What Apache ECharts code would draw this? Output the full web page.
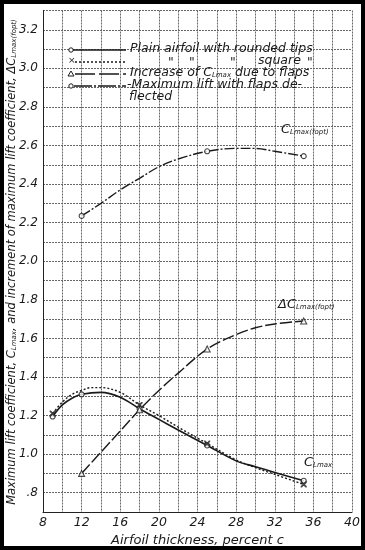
<!DOCTYPE html>
<html>
<head>
<meta charset="utf-8">
<script src="https://cdn.jsdelivr.net/npm/echarts@6/dist/echarts.min.js"></script>
<style>
html,body{margin:0;padding:0;background:#fff;}
#c{width:365px;height:550px;}
</style>
</head>
<body>
<div id="c"></div>
<script>
// ---- data ----
const xTicks = [8, 12, 16, 20, 24, 28, 32, 36, 40];
const yTicks = ['.8', '1.0', '1.2', '1.4', '1.6', '1.8', '2.0', '2.2', '2.4', '2.6', '2.8', '3.0', '3.2'];
const yTitle = 'Maximum lift coefficient, C{s|Lmax}, and increment of maximum lift coefficient, ΔC{s|Lmax(fopt)}';
const xTitle = 'Airfoil thickness, percent c';

// test points (markers)
const plainPts  = [[9, 1.195], [12, 1.31], [18, 1.235], [25, 1.045], [35, 0.862]];
const squarePts = [[9, 1.21], [18, 1.255], [25, 1.055], [35, 0.843]];
const incPts    = [[12, 0.90], [18, 1.23], [25, 1.545], [35, 1.69]];
const flapPts   = [[12, 2.235], [25, 2.57], [35, 2.545]];

// faired curves
const plainCurve  = [[9, 1.195], [10, 1.255], [11, 1.29], [12, 1.31], [14, 1.32], [16, 1.295], [18, 1.235], [20, 1.18], [22, 1.125], [25, 1.045], [28, 0.965], [30, 0.935], [32, 0.905], [35, 0.862]];
const squareCurve = [[9, 1.21], [10, 1.27], [11, 1.31], [12, 1.33], [13, 1.345], [14, 1.345], [16, 1.32], [18, 1.255], [20, 1.2], [22, 1.14], [25, 1.055], [28, 0.97], [30, 0.93], [32, 0.895], [35, 0.843]];
const incCurve    = [[12, 0.90], [14, 1.01], [16, 1.12], [18, 1.23], [20, 1.33], [22, 1.42], [25, 1.545], [28, 1.62], [30, 1.655], [32, 1.675], [35, 1.69]];
const flapCurve   = [[12, 2.235], [14, 2.30], [16, 2.37], [18, 2.43], [20, 2.49], [22, 2.53], [25, 2.57], [28, 2.585], [30, 2.585], [32, 2.57], [35, 2.545]];

const FONT = 'DejaVu Sans';
const ink = '#1a1a1a';
const gridCol = '#666';

const chart = echarts.init(document.getElementById('c'));

function curve(data, dash, w) {
  return {
    type: 'line', data: data, smooth: 0.35, showSymbol: false, symbol: 'none',
    lineStyle: { color: ink, width: w || 1.4, type: dash },
    silent: true, z: 3
  };
}
function marks(data, symbol, size, rotate) {
  return {
    type: 'scatter', data: data, symbol: symbol, symbolSize: size, symbolRotate: rotate || 0,
    itemStyle: { color: '#fff', borderColor: ink, borderWidth: 1.1 }, z: 5, silent: true
  };
}
const xPath = 'path://M0,0L1,0L5,4L9,0L10,0L10,1L6,5L10,9L10,10L9,10L5,6L1,10L0,10L0,9L4,5L0,1Z';

const richSub = { s: { fontSize: 7, fontStyle: 'italic', fontFamily: FONT, padding: [5, 0, 0, 0], fill: ink } };
function legText(x, y, txt, size) {
  size = size || 12.5;
  return { type: 'text', left: x, top: y, z: 10,
    style: { text: txt, font: 'italic ' + size + 'px "' + FONT + '"', fill: ink, rich: richSub } };
}

const legY = [50, 62, 74, 86];
const graphic = [
  // legend samples
  { type: 'line', shape: { x1: 73, y1: legY[0], x2: 126, y2: legY[0] }, style: { stroke: ink, lineWidth: 1.3 }, z: 10 },
  { type: 'circle', shape: { cx: 71, cy: legY[0], r: 2.2 }, style: { fill: '#fff', stroke: ink, lineWidth: 1 }, z: 11 },
  { type: 'line', shape: { x1: 75, y1: legY[1], x2: 126, y2: legY[1] }, style: { stroke: ink, lineWidth: 1.3, lineDash: [2, 2] }, z: 10 },
  { type: 'text', left: 68, top: legY[1] - 6, z: 11, style: { text: '×', font: '9px "' + FONT + '"', fill: ink } },
  { type: 'line', shape: { x1: 75, y1: legY[2], x2: 126, y2: legY[2] }, style: { stroke: ink, lineWidth: 1.3, lineDash: [20, 4] }, z: 10 },
  { type: 'polygon', shape: { points: [[71, legY[2] - 3], [74, legY[2] + 2], [68, legY[2] + 2]] }, style: { fill: '#fff', stroke: ink, lineWidth: 1 }, z: 11 },
  { type: 'line', shape: { x1: 74, y1: legY[3], x2: 126, y2: legY[3] }, style: { stroke: ink, lineWidth: 1.3, lineDash: [18, 2, 2, 2] }, z: 10 },
  { type: 'circle', shape: { cx: 71, cy: legY[3], r: 2.2 }, style: { fill: '#fff', stroke: ink, lineWidth: 1 }, z: 11 },
  // legend texts
  legText(130, legY[0] - 8, 'Plain airfoil with rounded tips'),
  legText(168, legY[1] - 6, '"'),
  legText(189, legY[1] - 6, '"'),
  legText(230, legY[1] - 6, '"'),
  legText(258, legY[1] - 8, 'square'),
  legText(307, legY[1] - 6, '"'),
  legText(130, legY[2] - 8, 'Increase of C{s|Lmax} due to flaps'),
  legText(127, legY[3] - 8, '-Maximum lift with flaps de-'),
  legText(129, legY[3] + 4, 'flected'),
  // curve annotations
  legText(281, 123, 'C{s|Lmax(fopt)}', 13),
  legText(278, 298, 'ΔC{s|Lmax(fopt)}', 13),
  legText(304, 456, 'C{s|Lmax}', 13),
  // y-axis title (rotated)
  { type: 'text', x: 12, y: 262, rotation: Math.PI / 2, z: 10,
    style: { text: yTitle, font: 'italic 11.5px "' + FONT + '"', fill: ink, align: 'center', verticalAlign: 'middle', rich: richSub } },
  // frame
  { type: 'rect', shape: { x: 0, y: 0, width: 365, height: 550 }, style: { fill: 'none', stroke: '#000', lineWidth: 8 }, z: 20, silent: true }
];

chart.setOption({
  backgroundColor: '#fff',
  animation: false,
  grid: { left: 43, right: 13, top: 10.5, bottom: 38, containLabel: false, outerBoundsMode: 'none' },
  xAxis: {
    type: 'value', min: 8, max: 40, interval: 2,
    name: xTitle, nameLocation: 'middle', nameGap: 20,
    nameTextStyle: { fontFamily: FONT, fontStyle: 'italic', fontSize: 13, color: ink },
    axisLine: { show: true, lineStyle: { color: '#222', width: 1 } },
    axisTick: { show: false },
    axisLabel: {
      margin: 4, fontFamily: FONT, fontStyle: 'italic', fontSize: 12.5, color: ink,
      formatter: function (v) { return xTicks.indexOf(Math.round(v)) >= 0 ? String(Math.round(v)) : ''; }
    },
    splitLine: { show: true, lineStyle: { color: gridCol, width: 1, type: [2, 1] } }
  },
  yAxis: {
    type: 'value', min: 0.7, max: 3.3, interval: 0.1,
    axisLine: { show: true, lineStyle: { color: '#222', width: 1 } },
    axisTick: { show: false },
    axisLabel: {
      margin: 5, fontFamily: FONT, fontStyle: 'italic', fontSize: 12, color: ink,
      formatter: function (v) {
        const r = Math.round(v * 10);
        if (r % 2) return '';
        const idx = (r - 8) / 2;
        return yTicks[idx] !== undefined ? yTicks[idx] : '';
      }
    },
    splitLine: { show: true, lineStyle: { color: gridCol, width: 1, type: [2, 1] } }
  },
  series: [
    curve(plainCurve, 'solid', 1.6),
    curve(squareCurve, [2, 2], 1.4),
    curve(incCurve, [12, 3], 1.4),
    curve(flapCurve, [10, 2, 2, 2], 1.4),
    marks(plainPts, 'circle', 5),
    marks(squarePts, xPath, 5),
    marks(incPts, 'triangle', 6),
    marks(flapPts, 'circle', 5)
  ],
  graphic: graphic
});
</script>
</body>
</html>
